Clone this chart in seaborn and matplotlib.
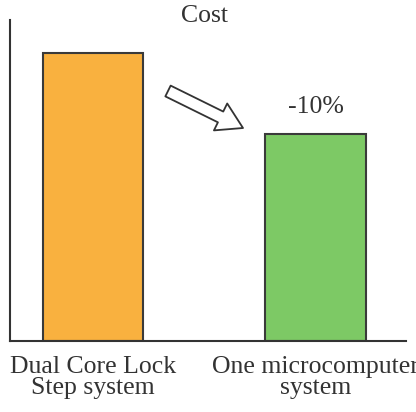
"""Cost comparison bar chart."""

import matplotlib
matplotlib.use('Agg')
import matplotlib.pyplot as plt
import seaborn as sns
import pandas as pd

# Data
systems = ['Dual Core Lock\nStep system', 'One microcomputer\nsystem']
costs = [100, 72]
bar_colors = ['#F9B13F', '#7DC965']
change_label = '-10%'

sns.set_style('white')
plt.rcParams['font.family'] = ['Liberation Serif', 'DejaVu Serif']

fig = plt.figure(figsize=(4.16, 4.12), dpi=100)
W, H = 416, 412
ax = fig.add_axes([10 / W, 1 - 341 / H, 396 / W, 321 / H])

df = pd.DataFrame({'system': systems, 'cost': costs})
sns.barplot(
    data=df, x='system', y='cost', hue='system', palette=bar_colors,
    width=0.45, edgecolor='#3a3a3a', linewidth=1.5, saturation=1,
    legend=False, ax=ax
)

ax.set_xlim(-0.373, 1.407)
ax.set_ylim(0, 111.5)
ax.set_xlabel('')
ax.set_ylabel('')
ax.set_yticks([])
ax.tick_params(axis='x', length=0, pad=11, labelsize=18.5, colors='#333333')
for lbl in ax.get_xticklabels():
    lbl.set_linespacing(0.92)

sns.despine(ax=ax)
for side in ['left', 'bottom']:
    ax.spines[side].set_color('#333333')
    ax.spines[side].set_linewidth(1.5)

# Title and change label
fig.text(205 / W, 1 - 22 / H, 'Cost', ha='center', va='baseline',
         fontsize=18.5, color='#333333')
ax.text(1, costs[1] + 7.3, change_label, ha='center', va='baseline',
        fontsize=18.5, color='#333333')

# Hollow arrow pointing to the cheaper system
ax.annotate(
    '', xy=(243, H - 128), xycoords='figure pixels',
    xytext=(168, H - 91), textcoords='figure pixels',
    arrowprops=dict(
        arrowstyle='simple,head_length=1.25,head_width=1.5,tail_width=0.6',
        mutation_scale=14.4, fc='white', ec='#333333', lw=1.3,
        shrinkA=0, shrinkB=0
    )
)

fig.savefig('out.png', dpi=100)
plt.close(fig)
